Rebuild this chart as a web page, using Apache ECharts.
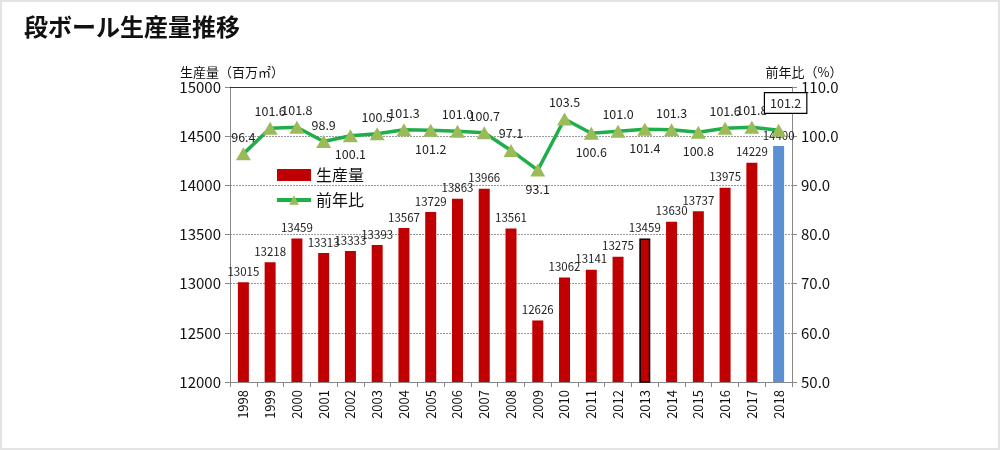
<!DOCTYPE html>
<html><head><meta charset="utf-8">
<script src="https://cdn.jsdelivr.net/npm/echarts@6/dist/echarts.min.js"></script>
<style>
html,body{margin:0;padding:0;background:#e4e4e4;width:1000px;height:450px;overflow:hidden;}
#c{position:absolute;left:2px;top:2px;width:996px;height:446px;background:#fff;}
</style></head>
<body><div id="c"></div>
<script>
const years = ['1998','1999','2000','2001','2002','2003','2004','2005','2006','2007','2008','2009','2010','2011','2012','2013','2014','2015','2016','2017','2018'];
const production = [13015,13218,13459,13313,13333,13393,13567,13729,13863,13966,13561,12626,13062,13141,13275,13459,13630,13737,13975,14229,14400];
const ratio = [96.4,101.6,101.8,98.9,100.1,100.5,101.3,101.2,101.0,100.7,97.1,93.1,103.5,100.6,101.0,101.4,101.3,100.8,101.6,101.8,101.2];
const leftTicks = {min:12000, max:15000, interval:500};
const rightTicks = {min:50, max:110, interval:10};
const ratioLabelPos = ['top','top','top','top','bottom','top','top','bottom','top','top','top','bottom','top','bottom','top','bottom','top','bottom','top','top','box'];

const FONT = '"Noto Sans CJK JP", "Noto Sans", sans-serif';
const chart = echarts.init(document.getElementById('c'));

const barData = production.map((v,i)=>{
  if (years[i]==='2018') return {value:v, itemStyle:{color:'#5b8fd6'}};
  if (years[i]==='2013') return {value:v, itemStyle:{borderColor:'#000', borderWidth:1.5}};
  return v;
});

const ratioData = ratio.map((v,i)=>{
  const p = ratioLabelPos[i];
  if (p === 'box') {
    return {value:v, label:{position:'top', offset:[7,-6], borderColor:'#000', borderWidth:1.2, padding:[4,5,3,5], backgroundColor:'#fff'}};
  }
  return {value:v, label:{position:p, distance: p==='bottom'?6:4}};
});

chart.setOption({
  animation:false,
  textStyle:{fontFamily:FONT},
  title:{text:'段ボール生産量推移', left:17, top:8, textStyle:{fontFamily:FONT, fontSize:24, fontWeight:'bold', color:'#111'}},
  legend:{
    left:268, top:160, orient:'vertical', itemGap:9, itemWidth:34, itemHeight:12,
    textStyle:{fontFamily:FONT, fontSize:16, color:'#111'},
    data:[{name:'生産量', icon:'rect'}, {name:'前年比', lineStyle:{width:4, color:'#1fae4a'}}]
  },
  grid:{left:228, right:206, top:85, bottom:66},
  xAxis:{
    type:'category', data:years,
    axisLine:{lineStyle:{color:'#888'}},
    axisTick:{show:true, alignWithLabel:false, length:5, lineStyle:{color:'#888'}},
    axisLabel:{rotate:90, fontSize:13, color:'#111', margin:8, fontFamily:FONT}
  },
  yAxis:[
    {type:'value', min:leftTicks.min, max:leftTicks.max, interval:leftTicks.interval,
     name:'生産量（百万㎡）', nameLocation:'end', nameGap:8,
     nameTextStyle:{fontSize:13, color:'#111', fontFamily:FONT, align:'center', padding:[0,0,0,4]},
     axisLine:{show:true, lineStyle:{color:'#888'}},
     axisTick:{show:true, length:5, lineStyle:{color:'#888'}},
     axisLabel:{fontSize:15, color:'#111', margin:9, fontFamily:FONT, formatter:v=>String(v)},
     splitLine:{show:true, lineStyle:{color:'#999', type:[2,1], width:1}}},
    {type:'value', min:rightTicks.min, max:rightTicks.max, interval:rightTicks.interval,
     name:'前年比（%）', nameLocation:'end', nameGap:8,
     nameTextStyle:{fontSize:13, color:'#111', fontFamily:FONT, align:'center', padding:[0,0,0,24]},
     axisLine:{show:true, lineStyle:{color:'#888'}},
     axisTick:{show:true, length:5, lineStyle:{color:'#888'}},
     axisLabel:{fontSize:15, color:'#111', margin:9, fontFamily:FONT, formatter:v=>v.toFixed(1)},
     splitLine:{show:false}}
  ],
  series:[
    {name:'生産量', type:'bar', yAxisIndex:0, data:barData, barWidth:11,
     itemStyle:{color:'#c00000'},
     label:{show:true, position:'top', distance:5, fontSize:11.5, color:'#222', fontFamily:FONT},
     markLine:{silent:true, symbol:'none', label:{show:false}, lineStyle:{color:'#333', type:'solid', width:1.2},
       data:[{yAxis:leftTicks.max}]}
    },
    {name:'前年比', type:'line', yAxisIndex:1, data:ratioData,
     lineStyle:{color:'#1fae4a', width:3.5},
     itemStyle:{color:'#9bbb59'},
     symbol:'triangle', symbolSize:[15,13], showAllSymbol:true,
     label:{show:true, fontSize:12.5, color:'#222', fontFamily:FONT, formatter:p=>Number(p.value).toFixed(1)},
     z:5}
  ]
});
</script></body></html>
